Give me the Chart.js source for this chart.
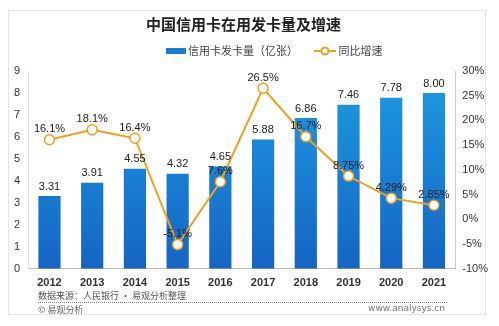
<!DOCTYPE html>
<html>
<head>
<meta charset="utf-8">
<script src="https://cdn.jsdelivr.net/npm/chart.js@4"></script>
<style>
  html, body { margin: 0; padding: 0; background: #fff; }
  #wrap { position: relative; width: 499px; height: 326px; font-family: "Noto Sans CJK SC", "Noto Sans", sans-serif; }
  #card { position: absolute; left: 8px; top: 10px; width: 478px; height: 305px; border: 1px solid #e4e4e4; box-sizing: border-box; }
  #c { position: absolute; left: 0; top: 0; }
  #title { position: absolute; left: 146px; top: 14px; font-size: 15px; font-weight: bold; color: #222; white-space: nowrap; line-height: 20px; }
  #legend { position: absolute; left: 163px; top: 42px; font-size: 11px; color: #444; line-height: 16px; white-space: nowrap; }
  #legend .item { display: inline-block; margin: 0 3px; }
  #legend .bar { display: inline-block; width: 20px; height: 6px; background: #1a7fd4; vertical-align: middle; margin-right: 2px; position: relative; top: -1px; }
  #legend .line { display: inline-block; width: 22px; height: 10px; vertical-align: middle; margin-right: 2px; margin-left: 8px; position: relative; top: -1px; }
  #src { position: absolute; left: 38px; top: 289px; font-size: 9px; color: #555; }
  #dots { position: absolute; left: 38px; top: 302px; width: 409px; border-top: 1px dotted #888; }
  #copy { position: absolute; left: 38px; top: 303px; font-size: 9px; color: #666; }
  #url { position: absolute; right: 54px; top: 303px; font-size: 9px; color: #777; font-family: "DejaVu Sans", sans-serif; }
</style>
</head>
<body>
<div id="wrap">
  <div id="card"></div>
  <canvas id="c" width="499" height="326"></canvas>
  <div id="title">中国信用卡在用发卡量及增速</div>
  <div id="legend">
    <span class="item"><span class="bar"></span>信用卡发卡量（亿张）</span>
    <span class="item"><canvas class="line" id="lineIcon" width="22" height="10"></canvas>同比增速</span>
  </div>
  <div id="src">数据来源：人民银行 · 易观分析整理</div>
  <div id="dots"></div>
  <div id="copy">© 易观分析</div>
  <div id="url">www.analysys.cn</div>
</div>
<script>
(() => {
  'use strict'
  const years = ['2012', '2013', '2014', '2015', '2016', '2017', '2018', '2019', '2020', '2021'];
  const cards = [3.31, 3.91, 4.55, 4.32, 4.65, 5.88, 6.86, 7.46, 7.78, 8.00];
  const growth = [16.1, 18.1, 16.4, -5.1, 7.6, 26.5, 16.7, 8.75, 4.29, 2.85];
  const cardLabels = ['3.31', '3.91', '4.55', '4.32', '4.65', '5.88', '6.86', '7.46', '7.78', '8.00'];
  const growthLabels = ['16.1%', '18.1%', '16.4%', '-5.1%', '7.6%', '26.5%', '16.7%', '8.75%', '4.29%', '2.85%'];

  const orange = '#eea21b';

  // icône de la légende (ligne + rond)
  const g = document.getElementById('lineIcon').getContext('2d');
  g.strokeStyle = orange; g.lineWidth = 2;
  g.beginPath(); g.moveTo(0, 5); g.lineTo(22, 5); g.stroke();
  g.fillStyle = '#fff';
  g.beginPath(); g.arc(11, 5, 3.5, 0, Math.PI * 2); g.fill(); g.stroke();

  // étiquettes de valeurs
  const valueLabels = {
    id: 'valueLabels',
    afterDatasetsDraw(chart) {
      const ctx = chart.ctx;
      ctx.save();
      ctx.font = '11px "Liberation Sans", Arial, sans-serif';
      ctx.fillStyle = '#222';
      ctx.textAlign = 'center';
      ctx.textBaseline = 'bottom';
      chart.getDatasetMeta(1).data.forEach((el, i) => {
        ctx.fillText(cardLabels[i], el.x, el.y - 4);
      });
      chart.getDatasetMeta(0).data.forEach((el, i) => {
        ctx.fillText(growthLabels[i], el.x, el.y - 5);
      });
      ctx.restore();
    }
  };

  new Chart(document.getElementById('c'), {
    data: {
      labels: years,
      datasets: [{
        type: 'line',
        label: '同比增速',
        data: growth,
        yAxisID: 'y1',
        borderColor: orange,
        borderWidth: 2,
        backgroundColor: '#fff',
        pointBackgroundColor: '#fff',
        pointBorderColor: orange,
        pointBorderWidth: 1.5,
        pointRadius: 5,
        tension: 0,
        order: 0
      }, {
        type: 'bar',
        label: '信用卡发卡量（亿张）',
        data: cards,
        yAxisID: 'y',
        backgroundColor: (c) => {
          const a = c.chart.chartArea;
          if (!a) return '#1a7fd4';
          const gr = c.chart.ctx.createLinearGradient(0, a.top, 0, a.bottom);
          gr.addColorStop(0, '#1d9be3');
          gr.addColorStop(1, '#1565c4');
          return gr;
        },
        barPercentage: 0.52,
        categoryPercentage: 1,
        order: 1
      }]
    },
    options: {
      responsive: false,
      animation: false,
      layout: { padding: { left: 6, right: 8, top: 71, bottom: 28 } },
      plugins: {
        legend: { display: false },
        tooltip: { enabled: false }
      },
      scales: {
        x: {
          grid: { display: false, drawTicks: false },
          border: { color: '#bbb' },
          ticks: { color: '#333', font: { size: 11, weight: 'bold', family: '"Liberation Sans", Arial, sans-serif' }, padding: 8 }
        },
        y: {
          position: 'left',
          min: 0, max: 9,
          ticks: { stepSize: 1, color: '#333', font: { size: 11, family: '"Liberation Sans", Arial, sans-serif' }, padding: 8 },
          grid: { display: false, drawTicks: false },
          border: { color: '#e0e0e0' }
        },
        y1: {
          position: 'right',
          min: -10, max: 30,
          ticks: { stepSize: 5, callback: (v) => v + '%', color: '#333', font: { size: 11, family: '"Liberation Sans", Arial, sans-serif' }, padding: 3 },
          grid: { display: false, drawOnChartArea: false, drawTicks: true, tickLength: 4, color: '#ccc' },
          border: { color: '#ccc' }
        }
      }
    },
    plugins: [valueLabels]
  });
})();
</script>
</body>
</html>
